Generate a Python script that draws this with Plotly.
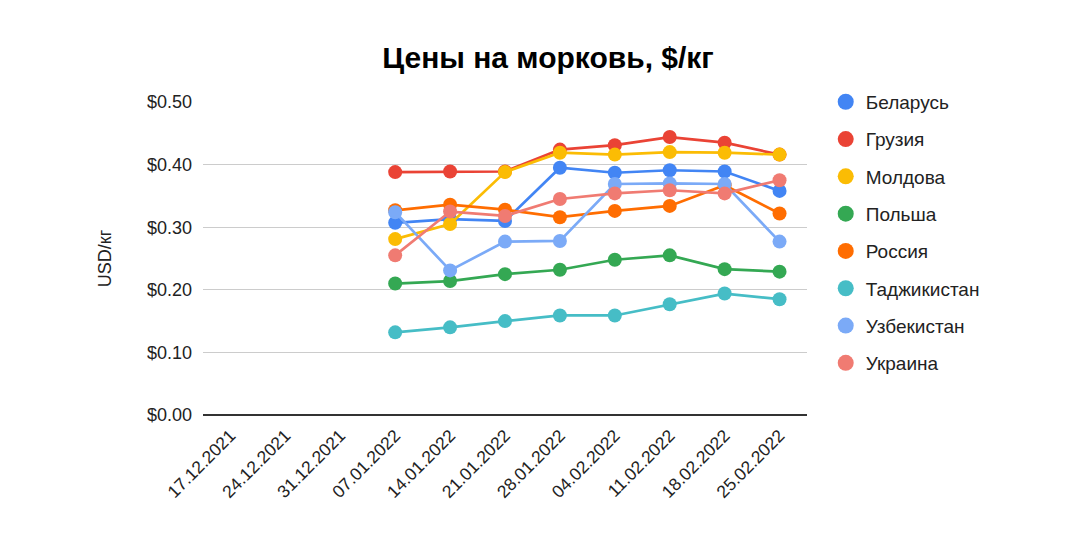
import plotly.graph_objects as go

dates = [
    "17.12.2021", "24.12.2021", "31.12.2021", "07.01.2022", "14.01.2022",
    "21.01.2022", "28.01.2022", "04.02.2022", "11.02.2022", "18.02.2022",
    "25.02.2022",
]

# values start at 07.01.2022, first three dates have no data
belarus = [None, None, None, 0.307, 0.313, 0.310, 0.395, 0.387, 0.391, 0.389, 0.358]
georgia = [None, None, None, 0.388, 0.389, 0.389, 0.424, 0.431, 0.444, 0.435, 0.416]
moldova = [None, None, None, 0.281, 0.305, 0.388, 0.419, 0.416, 0.420, 0.419, 0.416]
poland = [None, None, None, 0.210, 0.214, 0.225, 0.232, 0.248, 0.255, 0.233, 0.229]
russia = [None, None, None, 0.327, 0.336, 0.328, 0.316, 0.326, 0.334, 0.367, 0.322]
tajikistan = [None, None, None, 0.132, 0.140, 0.150, 0.159, 0.159, 0.177, 0.194, 0.185]
uzbekistan = [None, None, None, 0.324, 0.231, 0.277, 0.278, 0.369, 0.370, 0.369, 0.277]
ukraine = [None, None, None, 0.255, 0.325, 0.318, 0.345, 0.354, 0.359, 0.354, 0.375]

series = [
    ("Беларусь", belarus, "#4285F4"),
    ("Грузия", georgia, "#EA4335"),
    ("Молдова", moldova, "#FBBC04"),
    ("Польша", poland, "#34A853"),
    ("Россия", russia, "#FF6D01"),
    ("Таджикистан", tajikistan, "#46BDC6"),
    ("Узбекистан", uzbekistan, "#7BAAF7"),
    ("Украина", ukraine, "#F07B72"),
]

font = "Liberation Sans, Arial, sans-serif"

fig = go.Figure()

for name, values, color in series:
    fig.add_trace(go.Scatter(
        x=dates,
        y=values,
        mode="lines+markers",
        name=name,
        legendgroup=name,
        showlegend=False,
        line=dict(color=color, width=2.7),
        marker=dict(color=color, size=14),
    ))
    # legend entry: plain dot, no line
    fig.add_trace(go.Scatter(
        x=[None],
        y=[None],
        mode="markers",
        name=name,
        legendgroup=name,
        marker=dict(color=color, size=18),
        hoverinfo="skip",
    ))

fig.update_layout(
    width=1080,
    height=549,
    paper_bgcolor="white",
    plot_bgcolor="white",
    margin=dict(l=195, r=281, t=94, b=142),
    title=dict(
        text="<b>Цены на морковь, $/кг</b>",
        x=0.5,
        xanchor="center",
        y=0.909,
        yanchor="middle",
        font=dict(family=font, size=30, color="#000000"),
    ),
    font=dict(family=font, size=18, color="#222222"),
    legend=dict(
        x=1.031,
        xanchor="left",
        y=1.061,
        yanchor="top",
        maxheight=420,
        font=dict(family=font, size=19, color="#222222"),
        tracegroupgap=9.6,
        itemwidth=30,
    ),
    xaxis=dict(
        type="category",
        range=[-0.5, len(dates) - 0.5],
        tickangle=-45,
        showgrid=False,
        showline=False,
        ticks="",
        ticklabelstandoff=6,
        tickfont=dict(family=font, size=17.5, color="#222222"),
    ),
    yaxis=dict(
        title=dict(text="USD/кг", standoff=30,
                   font=dict(family=font, size=18, color="#222222")),
        range=[0, 0.5],
        dtick=0.1,
        tickformat="$.2f",
        showgrid=True,
        gridcolor="#cccccc",
        gridwidth=1,
        zeroline=True,
        zerolinecolor="#333333",
        zerolinewidth=1.5,
        ticks="",
        ticklabelstandoff=10,
        tickfont=dict(family=font, size=18, color="#222222"),
    ),
)

fig.write_html("out.html")
